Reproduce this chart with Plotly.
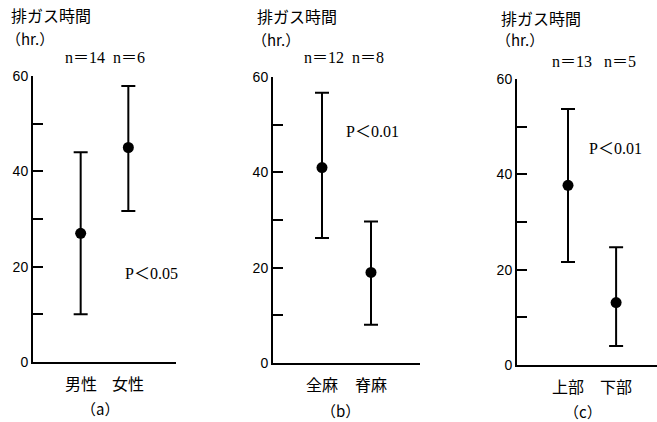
import plotly.graph_objects as go

W, H = 657, 422

# ---- data ----
cats_a = ["男性", "女性"]
mean_a = [27, 45]
low_a = [10, 31.7]
high_a = [44, 57.9]
n_a = "n＝14  n＝6"
p_a = "P＜0.05"

cats_b = ["全麻", "脊麻"]
mean_b = [41, 19]
low_b = [26.2, 8]
high_b = [56.7, 29.7]
n_b = "n＝12  n＝8"
p_b = "P＜0.01"

cats_c = ["上部", "下部"]
mean_c = [37.7, 13.1]
low_c = [21.6, 4]
high_c = [53.7, 24.7]
n_c = "n＝13   n＝5"
p_c = "P＜0.01"

panel_labels = ["（a）", "（b）", "（c）"]
y_title = "排ガス時間"
y_unit = "（hr.）"
ytick_vals = [0, 10, 20, 30, 40, 50, 60]
ytick_text = ["0", "", "20", "", "40", "", "60"]

def px(x):
    return x / W

def py(y):
    return 1 - y / H

CJK = "Noto Sans CJK JP"
SERIF = "Liberation Serif, Noto Sans CJK JP"
SANS = "Liberation Sans"

panels = [
    dict(cats=cats_a, mean=mean_a, low=low_a, high=high_a, n=n_a, p=p_a,
         xd=(33, 176), yd=(362, 76), xr=[0, 3],
         title=(9, 15), unit=(4, 38), npos=(63, 57), ppos=(123, 273),
         lab=(100, 408), caty=383),
    dict(cats=cats_b, mean=mean_b, low=low_b, high=high_b, n=n_b, p=p_b,
         xd=(273, 420), yd=(363, 77), xr=[0, 3],
         title=(255, 16), unit=(250, 39), npos=(302, 58), ppos=(344, 131),
         lab=(340, 410), caty=384),
    dict(cats=cats_c, mean=mean_c, low=low_c, high=high_c, n=n_c, p=p_c,
         xd=(517, 657), yd=(365, 79), xr=[-0.06, 2.85],
         title=(499, 18), unit=(494, 40), npos=(550, 61), ppos=(587, 148),
         lab=(583, 411), caty=386),
]

fig = go.Figure()
annotations = []
layout = {}

for i, pnl in enumerate(panels, start=1):
    xs = [1, 2]
    sfx = "" if i == 1 else str(i)
    fig.add_trace(go.Scatter(
        x=xs, y=pnl["mean"], mode="markers",
        marker=dict(color="black", size=11),
        error_y=dict(type="data", symmetric=False,
                     array=[h - m for h, m in zip(pnl["high"], pnl["mean"])],
                     arrayminus=[m - l for m, l in zip(pnl["mean"], pnl["low"])],
                     color="black", thickness=2, width=7),
        xaxis="x" + sfx, yaxis="y" + sfx, showlegend=False,
        cliponaxis=False,
    ))
    layout["xaxis" + sfx] = dict(
        domain=[px(pnl["xd"][0]), px(pnl["xd"][1])], range=pnl["xr"],
        anchor="y" + sfx, showline=True, linecolor="black", linewidth=2,
        showgrid=False, zeroline=False, ticks="", showticklabels=False,
        fixedrange=True, automargin=False,
    )
    layout["yaxis" + sfx] = dict(
        domain=[py(pnl["yd"][0]), py(pnl["yd"][1])], range=[0, 60],
        anchor="x" + sfx, showline=True, linecolor="black", linewidth=2,
        showgrid=False, zeroline=False, ticks="inside", ticklen=10,
        tickwidth=2, tickcolor="black", tickvals=ytick_vals,
        ticktext=ytick_text, tickfont=dict(family=SANS, size=14, color="black"),
        fixedrange=True, automargin=False,
    )
    # category labels
    for xv, c in zip(xs, pnl["cats"]):
        annotations.append(dict(
            x=xv, y=py(pnl["caty"]), xref="x" + sfx, yref="paper",
            text=c, showarrow=False, xanchor="center", yanchor="middle",
            font=dict(family=CJK, size=16, color="black")))
    annotations.append(dict(
        x=px(pnl["lab"][0]), y=py(pnl["lab"][1]), xref="paper", yref="paper",
        text=panel_labels[i - 1], showarrow=False, xanchor="center", yanchor="middle",
        font=dict(family=CJK, size=15, color="black")))
    annotations.append(dict(
        x=px(pnl["title"][0]), y=py(pnl["title"][1]), xref="paper", yref="paper",
        text=y_title, showarrow=False, xanchor="left", yanchor="middle",
        font=dict(family=CJK, size=16, color="black")))
    annotations.append(dict(
        x=px(pnl["unit"][0]), y=py(pnl["unit"][1]), xref="paper", yref="paper",
        text=y_unit, showarrow=False, xanchor="left", yanchor="middle",
        font=dict(family=CJK, size=15, color="black")))
    annotations.append(dict(
        x=px(pnl["npos"][0]), y=py(pnl["npos"][1]), xref="paper", yref="paper",
        text=pnl["n"], showarrow=False, xanchor="left", yanchor="middle",
        font=dict(family=SERIF, size=16, color="black")))
    annotations.append(dict(
        x=px(pnl["ppos"][0]), y=py(pnl["ppos"][1]), xref="paper", yref="paper",
        text=pnl["p"], showarrow=False, xanchor="left", yanchor="middle",
        font=dict(family=SERIF, size=16, color="black")))

fig.update_layout(
    width=W, height=H, margin=dict(l=0, r=0, t=0, b=0),
    paper_bgcolor="white", plot_bgcolor="white",
    annotations=annotations, **layout,
)

fig.write_html(
    "out.html",
    config={"displayModeBar": False},
    post_script="document.body.style.margin='0px';document.body.style.overflow='hidden';",
)
